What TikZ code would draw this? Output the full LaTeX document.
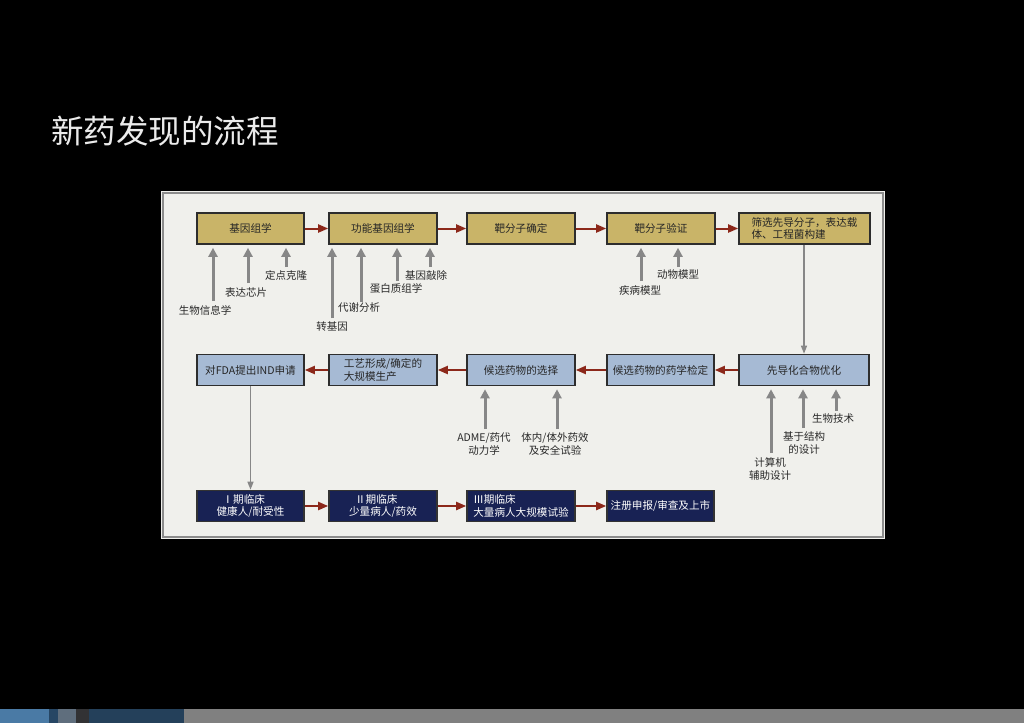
\documentclass[tikz,border=0pt]{standalone}
\usepackage{fontspec}
\newfontfamily\cjk{Noto Sans CJK SC}
\usetikzlibrary{arrows.meta,calc}
\definecolor{khaki}{RGB}{201,180,104}
\definecolor{lblue}{RGB}{166,186,212}
\definecolor{navy}{RGB}{24,34,84}
\definecolor{redarrow}{RGB}{140,40,26}
\definecolor{grayarrow}{RGB}{135,135,135}
\definecolor{panel}{RGB}{240,240,236}
\definecolor{boxline}{RGB}{45,45,45}
\definecolor{lbltext}{RGB}{40,40,40}
\definecolor{bar1}{RGB}{74,122,165}
\definecolor{bar2}{RGB}{38,70,100}
\definecolor{bar3}{RGB}{95,110,125}
\definecolor{bar4}{RGB}{50,50,52}
\definecolor{bar5}{RGB}{36,64,90}
\tikzset{
  boxbase/.style={draw=boxline, line width=1.6pt, minimum height=31pt, inner sep=1.5pt, font=\cjk\fontsize{10.6}{12.2}\selectfont, align=center},
  ybox/.style={boxbase, fill=khaki, text=black!85},
  bbox/.style={boxbase, fill=lblue, text=black!85},
  nbox/.style={boxbase, fill=navy, text=white, draw=black!80},
  lbl/.style={font=\cjk\fontsize{10.5}{12.5}\selectfont, text=lbltext, align=center, inner sep=0pt},
  redarr/.style={draw=redarrow, line width=2pt, -{Triangle[width=8pt,length=10pt]}},
  grayarr/.style={draw=grayarrow, line width=3pt, -{Triangle[width=9pt,length=9pt]}, shorten >=3pt},
  thinarr/.style={draw=grayarrow, line width=1.3pt, -{Triangle[width=6pt,length=8pt]}}
}
\begin{document}
\begin{tikzpicture}[x=1pt,y=-1pt]
\useasboundingbox (0,0) rectangle (1024,723);
\fill[black] (0,0) rectangle (1024,723);
% bottom bar
\fill[black!50] (184,709) rectangle (1024,723);
\fill[bar1] (0,709) rectangle (49,723);
\fill[bar2] (49,709) rectangle (58,723);
\fill[bar3] (58,709) rectangle (76,723);
\fill[bar4] (76,709) rectangle (89,723);
\fill[bar5] (89,709) rectangle (184,723);
% title
\node[anchor=west, inner sep=0pt, text=black!8, font=\cjk\fontsize{32.5}{36}\selectfont] (title) at (51,131) {新药发现的流程};
% panel
\fill[panel] (161,191) rectangle (885,539);
\draw[black!45, line width=1.2pt] (163,193) rectangle (883,537);
% row 1
\node[ybox, minimum width=107pt] (g1) at (250.5,228.5) {基因组学};
\node[ybox, minimum width=108pt] (g2) at (383,228.5) {功能基因组学};
\node[ybox, minimum width=108pt] (g3) at (521,228.5) {靶分子确定};
\node[ybox, minimum width=108pt] (g4) at (661,228.5) {靶分子验证};
\node[ybox, minimum width=131pt, align=left] (g5) at (804.5,228.5) {筛选先导分子，表达载\\体、工程菌构建};
% row 2
\node[bbox, minimum width=107pt] (r1) at (250.5,370) {对FDA提出IND申请};
\node[bbox, minimum width=108pt, align=left] (r2) at (383,370) {工艺形成/确定的\\大规模生产};
\node[bbox, minimum width=108pt] (r3) at (521,370) {候选药物的选择};
\node[bbox, minimum width=107pt] (r4) at (660.5,370) {候选药物的药学检定};
\node[bbox, minimum width=130pt] (r5) at (804,370) {先导化合物优化};
% row 3
\node[nbox, minimum width=107pt, align=left] (c1) at (250.5,506) {\hspace*{6pt}Ⅰ期临床\\健康人/耐受性};
\node[nbox, minimum width=108pt, align=left] (c2) at (383,506) {\hspace*{6pt}Ⅱ期临床\\少量病人/药效};
\node[nbox, minimum width=108pt, align=left] (c3) at (521,506) {Ⅲ期临床\\大量病人大规模试验};
\node[nbox, minimum width=107pt] (c4) at (660.5,506) {注册申报/审查及上市};
% red flow arrows
\draw[redarr] (g1) -- (g2);
\draw[redarr] (g2) -- (g3);
\draw[redarr] (g3) -- (g4);
\draw[redarr] (g4) -- (g5);
\draw[redarr] (r5) -- (r4);
\draw[redarr] (r4) -- (r3);
\draw[redarr] (r3) -- (r2);
\draw[redarr] (r2) -- (r1);
\draw[redarr] (c1) -- (c2);
\draw[redarr] (c2) -- (c3);
\draw[redarr] (c3) -- (c4);
% vertical thin arrows
\draw[thinarr] (g5.south -| r5.north) -- (r5.north);
\draw[thinarr] (r1.south) -- (c1.north);
% labels row 1
\node[lbl] (l11) at (205,310) {生物信息学};
\node[lbl] (l12) at (246,293) {表达芯片};
\node[lbl] (l13) at (286,275) {定点克隆};
\node[lbl] (l21) at (332,327) {转基因};
\node[lbl] (l22) at (359,308) {代谢分析};
\node[lbl] (l23) at (396,289) {蛋白质组学};
\node[lbl] (l24) at (426,275) {基因敲除};
\node[lbl] (l41) at (640,290) {疾病模型};
\node[lbl] (l42) at (678,275) {动物模型};
\coordinate (t11) at (213,301);
\coordinate (t12) at (248,283);
\coordinate (t13) at (286,267);
\coordinate (t21) at (332,318);
\coordinate (t22) at (361,302);
\coordinate (t23) at (397,281);
\coordinate (t24) at (430,267);
\coordinate (t41) at (641,281);
\coordinate (t42) at (678,267);
\draw[grayarr] (t11) -- (t11 |- g1.south);
\draw[grayarr] (t12) -- (t12 |- g1.south);
\draw[grayarr] (t13) -- (t13 |- g1.south);
\draw[grayarr] (t21) -- (t21 |- g2.south);
\draw[grayarr] (t22) -- (t22 |- g2.south);
\draw[grayarr] (t23) -- (t23 |- g2.south);
\draw[grayarr] (t24) -- (t24 |- g2.south);
\draw[grayarr] (t41) -- (t41 |- g4.south);
\draw[grayarr] (t42) -- (t42 |- g4.south);
% labels row 2
\node[lbl] (m31) at (484,444) {ADME/药代\\动力学};
\node[lbl] (m32) at (555,444) {体内/体外药效\\及安全试验};
\node[lbl] (m51) at (770,469) {计算机\\辅助设计};
\node[lbl] (m52) at (804,443) {基于结构\\的设计};
\node[lbl] (m53) at (833,419) {生物技术};
\coordinate (s31) at (485,429);
\coordinate (s32) at (557,429);
\coordinate (s51) at (771,453);
\coordinate (s52) at (803,428);
\coordinate (s53) at (836,411);
\draw[grayarr] (s31) -- (s31 |- r3.south);
\draw[grayarr] (s32) -- (s32 |- r3.south);
\draw[grayarr] (s51) -- (s51 |- r5.south);
\draw[grayarr] (s52) -- (s52 |- r5.south);
\draw[grayarr] (s53) -- (s53 |- r5.south);
\end{tikzpicture}
\end{document}
